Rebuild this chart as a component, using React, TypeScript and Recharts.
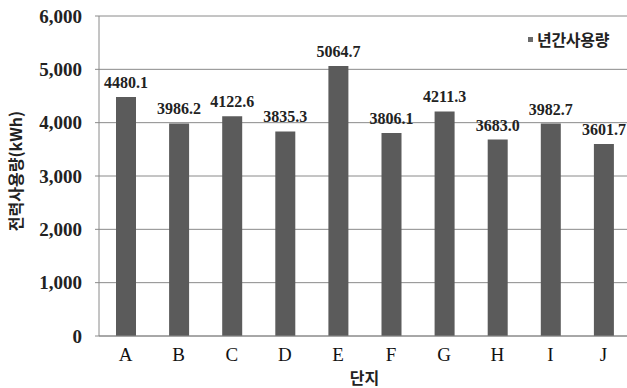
import { BarChart, Bar, XAxis, YAxis, CartesianGrid, Legend, LabelList } from "recharts";

const complexes = ["A", "B", "C", "D", "E", "F", "G", "H", "I", "J"];
const annualUsage = [4480.1, 3986.2, 4122.6, 3835.3, 5064.7, 3806.1, 4211.3, 3683.0, 3982.7, 3601.7];
const yTicks = [0, 1000, 2000, 3000, 4000, 5000, 6000];

const seriesName = "년간사용량";
const BAR_COLOR = "#5b5b5b";
const SERIF = "'Liberation Serif', 'DejaVu Serif', serif";
const KOREAN = "'Noto Sans CJK KR', sans-serif";

const rows = complexes.map((name, i) => ({ name, usage: annualUsage[i] }));

function LegendBox() {
  return (
    <div style={{ display: "flex", alignItems: "center", fontFamily: KOREAN, fontWeight: 700, fontSize: 16, color: "#222" }}>
      <span style={{ display: "inline-block", width: 5, height: 5, background: "#6a6a6a", marginRight: 4 }} />
      <span style={{ letterSpacing: -0.3 }}>{seriesName}</span>
    </div>
  );
}

function YTitle() {
  const cy = 171;
  return (
    <text
      x={15}
      y={cy}
      transform={`rotate(-90 15 ${cy})`}
      textAnchor="middle"
      dominantBaseline="central"
      fontFamily={KOREAN}
      fontWeight={700}
      fontSize={16}
      fill="#222"
    >
      전력사용량(kWh)
    </text>
  );
}

export default function App() {
  return (
    <div style={{ position: "absolute", left: 0, top: 0, width: 627, height: 388, overflow: "hidden", background: "#fff" }}>
      <BarChart width={632} height={388} data={rows} margin={{ top: 16, right: 2, bottom: 0, left: 0 }}>
        <CartesianGrid vertical={false} stroke="#8a8a8a" strokeWidth={1} />
        <XAxis
          dataKey="name"
          height={52}
          axisLine={{ stroke: "#8a8a8a" }}
          tickLine={false}
          tickMargin={6}
          tick={{ fontFamily: SERIF, fontSize: 19, fill: "#111" }}
          label={{ value: "단지", position: "insideBottom", offset: 4, fontFamily: KOREAN, fontWeight: 700, fontSize: 16, fill: "#222" }}
        />
        <YAxis
          width={99}
          domain={[0, 6000]}
          ticks={yTicks}
          interval={0}
          axisLine={{ stroke: "#8a8a8a" }}
          tickLine={{ stroke: "#8a8a8a" }}
          tickSize={4}
          tickMargin={13}
          tickFormatter={(v: number) => v.toLocaleString("en-US")}
          tick={{ fontFamily: SERIF, fontSize: 19, fontWeight: 700, fill: "#222" }}
          label={{ content: YTitle }}
        />
        <Legend
          layout="horizontal"
          verticalAlign="middle"
          align="center"
          wrapperStyle={{ top: 27, left: 528, width: 100 }}
          content={LegendBox}
        />
        <Bar dataKey="usage" name={seriesName} fill={BAR_COLOR} barSize={20} isAnimationActive={false}>
          <LabelList
            dataKey="usage"
            position="top"
            offset={9}
            formatter={(v: number) => v.toFixed(1)}
            style={{ fontFamily: SERIF, fontSize: 16, fontWeight: 700, fill: "#222" }}
          />
        </Bar>
      </BarChart>
    </div>
  );
}
